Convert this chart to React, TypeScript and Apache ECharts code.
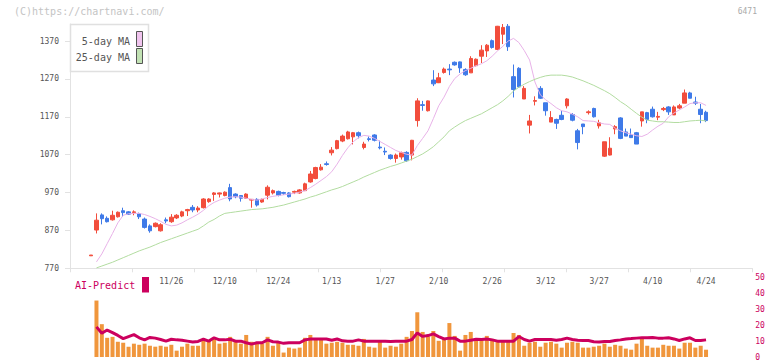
import React, { useEffect, useRef } from "react";
import * as echarts from "echarts";

// ---- data ----
const dateLabels = ["11/26", "12/10", "12/24", "1/13", "1/27", "2/10", "2/26", "3/12", "3/27", "4/10", "4/24"];
const labelIndex = [15, 25, 35, 45, 55, 65, 75, 85, 95, 105, 115];
const priceTicks = [770, 870, 970, 1070, 1170, 1270, 1370];
const volumeTicks = [0, 10, 20, 30, 40, 50];

const opens = [
  803, 871, 911, 902, 898, 906, 922, 919, 917, 914,
  900, 882, 880, 869, 898, 893, 903, 908, 922, 931,
  924, 930, 946, 965, 966, 962, 983, 966, 962, 955,
  950, 952, 945, 963, 969, 973, 970, 969, 971, 969,
  975, 998, 1007, 1030, 1046, 1075, 1086, 1106, 1112, 1117,
  1128, 1089, 1112, 1122, 1090, 1079, 1069, 1060, 1064, 1076,
  1069, 1160, 1202, 1186, 1267, 1260, 1287, 1296, 1314, 1315,
  1295, 1286, 1305, 1330, 1344, 1371, 1348, 1388, 1409, 1276,
  1298, 1217, 1148, 1211, 1245, 1207, 1156, 1163, 1174, 1199,
  1176, 1133, 1151, 1181, 1192, 1146, 1066, 1069, 1138, 1167,
  1130, 1122, 1128, 1159, 1181, 1190, 1169, 1189, 1196, 1175,
  1193, 1206, 1233, 1209, 1190, 1182,
];
const closes = [
  805, 897, 901, 893, 910, 918, 917, 913, 919, 906,
  878, 869, 889, 885, 895, 905, 910, 919, 925, 924,
  929, 953, 953, 969, 969, 971, 953, 959, 955, 966,
  952, 937, 952, 984, 975, 963, 968, 959, 973, 977,
  993, 1019, 1036, 1037, 1044, 1082, 1107, 1119, 1130, 1128,
  1120, 1098, 1110, 1108, 1088, 1077, 1060, 1069, 1075, 1054,
  1108, 1212, 1200, 1212, 1257, 1273, 1296, 1294, 1307, 1299,
  1281, 1324, 1322, 1346, 1359, 1353, 1409, 1406, 1355, 1242,
  1249, 1245, 1159, 1213, 1219, 1186, 1168, 1153, 1163, 1217,
  1161, 1102, 1144, 1183, 1170, 1154, 1104, 1087, 1144, 1113,
  1119, 1115, 1098, 1183, 1163, 1170, 1171, 1192, 1183, 1196,
  1199, 1233, 1219, 1206, 1176, 1160,
];
const lows = [
  803, 862, 886, 891, 896, 904, 906, 911, 910, 900,
  875, 864, 878, 867, 889, 890, 900, 905, 908, 918,
  918, 928, 943, 948, 957, 960, 947, 955, 946, 953,
  930, 933, 943, 952, 965, 960, 964, 957, 966, 967,
  974, 996, 1005, 1028, 1041, 1068, 1084, 1103, 1110, 1097,
  1113, 1084, 1105, 1105, 1084, 1069, 1057, 1049, 1057, 1051,
  1055, 1144, 1186, 1184, 1251, 1259, 1284, 1280, 1305, 1286,
  1278, 1286, 1303, 1312, 1328, 1350, 1346, 1362, 1344, 1221,
  1246, 1217, 1126, 1200, 1217, 1173, 1156, 1138, 1161, 1192,
  1158, 1084, 1124, 1176, 1168, 1139, 1064, 1068, 1124, 1111,
  1119, 1115, 1098, 1144, 1153, 1168, 1161, 1185, 1175, 1175,
  1190, 1206, 1219, 1201, 1153, 1156,
];
const highs = [
  805, 915, 915, 907, 922, 920, 930, 921, 923, 917,
  904, 886, 891, 889, 904, 913, 913, 922, 927, 937,
  934, 955, 955, 971, 970, 973, 993, 968, 963, 968,
  953, 955, 954, 989, 978, 975, 972, 971, 975, 979,
  996, 1027, 1038, 1045, 1052, 1090, 1109, 1123, 1133, 1130,
  1131, 1104, 1118, 1124, 1107, 1089, 1071, 1073, 1078, 1079,
  1109, 1219, 1212, 1213, 1293, 1286, 1300, 1309, 1316, 1316,
  1298, 1330, 1324, 1359, 1362, 1374, 1410, 1415, 1415, 1308,
  1301, 1251, 1175, 1224, 1251, 1207, 1185, 1165, 1186, 1219,
  1180, 1138, 1151, 1187, 1194, 1162, 1104, 1116, 1148, 1169,
  1139, 1139, 1130, 1183, 1183, 1197, 1183, 1196, 1198, 1200,
  1204, 1242, 1236, 1223, 1204, 1186,
];
const ma5 = [
  null, 787, 808, 835, 862, 890, 910, 914, 915, 915,
  912, 907, 901, 894, 886, 882, 884, 890, 898, 905,
  913, 923, 935, 944, 950, 955, 958, 959, 958, 955,
  952, 950, 953, 957, 960, 962, 964, 966, 968, 971,
  975, 983, 992, 1002, 1012, 1025, 1045, 1068, 1088, 1104,
  1115, 1121, 1119, 1113, 1105, 1097, 1089, 1081, 1076, 1071,
  1069, 1094, 1113, 1133, 1165, 1199, 1222, 1250, 1271, 1283,
  1292, 1298, 1305, 1310, 1318, 1330, 1344, 1356, 1370, 1377,
  1366, 1345, 1320, 1262, 1228, 1215, 1205, 1194, 1186, 1183,
  1177, 1170, 1160, 1159, 1158, 1154, 1151, 1150, 1140, 1133,
  1128, 1124, 1120, 1118, 1124, 1135, 1145, 1153, 1170, 1180,
  1188, 1196, 1205, 1207, 1207, 1200,
];
const ma25 = [
  null, 771, 776, 781, 786, 792, 798, 804, 810, 816,
  821, 826, 832, 838, 843, 848, 853, 858, 863, 868,
  873, 882, 892, 899, 908, 915, 917, 919, 921, 923,
  925, 926, 927, 929, 931, 934, 937, 941, 945, 949,
  953, 958, 962, 967, 972, 977, 981, 986, 992, 998,
  1004, 1011, 1017, 1023, 1029, 1034, 1039, 1043, 1048, 1053,
  1058, 1065, 1072, 1081, 1091, 1104, 1117, 1133, 1143, 1152,
  1160, 1166, 1172, 1178, 1186, 1194, 1202, 1212, 1224, 1238,
  1248, 1256, 1263, 1269, 1274, 1278, 1280, 1280, 1280, 1278,
  1275, 1270, 1265, 1259, 1253, 1246, 1239, 1231, 1221, 1210,
  1201, 1190, 1179, 1169, 1161, 1159, 1157, 1157, 1156, 1155,
  1155, 1157, 1159, 1160, 1161, 1159,
];
const volume = [
  null, 35.6, 20.7, 12.1, 12.7, 9.6, 9.0, 6.5, 8.4, 7.7,
  8.4, 7.1, 6.5, 7.1, 6.5, 7.7, 4.0, 6.5, 8.4, 7.1,
  7.1, 11.4, 10.2, 11.4, 8.4, 9.0, 12.7, 10.2, 8.4, 13.9,
  9.6, 9.0, 8.4, 12.7, 7.1, 9.0, 2.8, 5.9, 5.3, 5.9,
  12.1, 13.9, 11.4, 11.4, 8.4, 9.0, 9.6, 9.0, 7.7, 7.7,
  7.1, 11.4, 6.5, 5.9, 9.6, 5.9, 7.1, 6.5, 8.4, 12.7,
  16.4, 28.2, 15.8, 12.9, 16.4, 10.2, 11.4, 21.4, 13.3, 4.0,
  13.9, 15.8, 11.4, 10.8, 13.3, 11.4, 10.2, 9.6, 10.2, 15.2,
  13.9, 7.1, 9.0, 9.6, 6.5, 9.0, 9.6, 8.4, 5.9, 9.0,
  9.6, 9.0, 5.9, 5.9, 6.5, 7.1, 8.4, 6.5, 7.7, 7.1,
  5.3, 4.6, 8.4, 11.4, 7.1, 5.9, 5.9, 7.7, 7.1, 7.1,
  5.3, 9.0, 9.0, 5.9, 7.1, 4.6,
];
const aiPredict = [
  null, 19.0, 15.0, 17.0, 15.4, 13.6, 11.6, 12.9, 14.1, 12.1,
  10.8, 12.3, 11.9, 11.0, 10.0, 11.2, 10.8, 10.6, 10.0, 9.4,
  9.8, 11.2, 10.0, 12.1, 10.8, 10.8, 11.2, 10.0, 10.0, 9.0,
  8.1, 9.0, 9.0, 10.8, 9.6, 9.4, 8.6, 9.0, 9.0, 9.0,
  10.8, 11.4, 11.4, 11.4, 11.4, 10.6, 11.4, 10.2, 10.0, 10.0,
  10.8, 10.0, 10.0, 10.0, 10.0, 10.0, 9.8, 10.0, 10.0, 10.0,
  11.0, 15.2, 13.0, 13.5, 14.6, 12.9, 11.4, 11.9, 11.9, 10.0,
  10.0, 10.6, 11.2, 11.0, 11.4, 10.8, 10.0, 10.0, 10.0, 10.0,
  12.9, 11.0, 10.0, 11.0, 11.0, 11.0, 11.0, 10.6, 11.0, 11.9,
  11.0, 10.6, 10.4, 10.4, 9.6, 9.4, 9.8, 9.8, 10.4, 10.8,
  11.4, 11.6, 11.9, 12.1, 12.1, 12.3, 11.9, 11.9, 12.1, 11.4,
  10.4, 11.4, 12.1, 10.4, 10.4, 10.8,
];

const FONT = "'DejaVu Sans Mono', 'Liberation Mono', monospace";
const RED = "#f24d3c";
const BLUE = "#3f7ae8";
const CRIMSON = "#cc005e";
const ORANGE = "#f0963c";
const AXIS = "#e2e2e2";

const pairs = (arr: (number | null)[]) =>
  arr.map((v, i) => (v == null ? null : [i, v])).filter((p) => p !== null);

export default function App() {
  const ref = useRef<HTMLDivElement>(null);

  useEffect(() => {
    if (!ref.current) return;
    const chart = echarts.init(ref.current, undefined, { renderer: "svg" });

    const xMin = -3.95;
    const xMax = 123.65;
    const xTicks = Array.from({ length: 12 }, (_, k) => xMin + (k * (xMax - xMin)) / 11);
    const candles = opens.map((o, i) => [i, o, closes[i], lows[i], highs[i]]);

    const option: any = {
      animation: false,
      backgroundColor: "#ffffff",
      grid: [
        { left: 70, right: 19.7, top: 24, bottom: 92.7 },
        { left: 70, right: 19.7, top: 277.7, bottom: 3 },
      ],
      xAxis: [
        {
          type: "value",
          gridIndex: 0,
          min: xMin,
          max: xMax,
          axisLine: { show: true, onZero: false, lineStyle: { color: AXIS, width: 1 } },
          axisTick: { show: true, customValues: xTicks, length: 4, lineStyle: { color: AXIS } },
          axisLabel: {
            show: true,
            customValues: labelIndex,
            formatter: (v: number) => {
              const k = labelIndex.indexOf(Math.round(v));
              return k >= 0 ? dateLabels[k] : "";
            },
            color: "#555",
            fontSize: 8,
            fontFamily: FONT,
            margin: 9,
          },
          splitLine: { show: false },
        },
        {
          type: "value",
          gridIndex: 1,
          min: xMin,
          max: xMax,
          show: false,
        },
      ],
      yAxis: [
        {
          type: "value",
          gridIndex: 0,
          min: 770,
          max: 1415,
          axisLine: { show: true, onZero: false, lineStyle: { color: AXIS, width: 1 } },
          axisTick: { show: true, customValues: priceTicks, length: 5, lineStyle: { color: AXIS } },
          axisLabel: {
            show: true,
            customValues: priceTicks,
            formatter: (v: number) => String(Math.round(v)),
            color: "#555",
            fontSize: 8,
            fontFamily: FONT,
            margin: 11,
          },
          splitLine: { show: false },
        },
        {
          type: "value",
          gridIndex: 1,
          position: "right",
          min: 0,
          max: 50,
          axisLine: { show: false, onZero: false },
          axisTick: { show: false },
          axisLabel: {
            show: true,
            customValues: volumeTicks,
            formatter: (v: number) => String(Math.round(v)),
            color: CRIMSON,
            fontSize: 8,
            fontFamily: FONT,
            margin: 3,
          },
          splitLine: { show: false },
        },
      ],
      series: [
        {
          type: "candlestick",
          xAxisIndex: 0,
          yAxisIndex: 0,
          data: candles,
          encode: { x: 0, y: [1, 2, 3, 4] },
          barWidth: 4,
          itemStyle: {
            color: RED,
            color0: BLUE,
            borderColor: RED,
            borderColor0: BLUE,
            borderWidth: 1,
          },
        },
        {
          type: "line",
          xAxisIndex: 0,
          yAxisIndex: 0,
          data: pairs(ma5),
          showSymbol: false,
          symbol: "none",
          lineStyle: { color: "#e8b2e8", width: 1 },
        },
        {
          type: "line",
          xAxisIndex: 0,
          yAxisIndex: 0,
          data: pairs(ma25),
          showSymbol: false,
          symbol: "none",
          lineStyle: { color: "#b2dca0", width: 1 },
        },
        {
          type: "bar",
          xAxisIndex: 1,
          yAxisIndex: 1,
          data: pairs(volume),
          barWidth: 4,
          itemStyle: { color: ORANGE },
        },
        {
          type: "line",
          xAxisIndex: 1,
          yAxisIndex: 1,
          data: pairs(aiPredict),
          showSymbol: false,
          symbol: "none",
          lineStyle: { color: CRIMSON, width: 3 },
        },
      ],
      graphic: [
        {
          type: "text",
          left: 14,
          top: 6,
          style: { text: "(C)https://chartnavi.com/", fill: "#c4c4c4", font: `10px ${FONT}` },
        },
        {
          type: "text",
          right: 15,
          top: 7,
          style: { text: "6471", fill: "#aaaaaa", font: `8px ${FONT}` },
        },
        {
          type: "rect",
          shape: { x: 70.5, y: 24.5, width: 78, height: 47 },
          style: { fill: "#ffffff", stroke: "#e0e0e0", lineWidth: 1.5 },
          z: 100,
        },
        {
          type: "text",
          x: 130,
          y: 41.5,
          style: { text: "5-day MA", fill: "#555", font: `10px ${FONT}`, textAlign: "right", textVerticalAlign: "middle" },
          z: 101,
        },
        {
          type: "text",
          x: 130,
          y: 57.5,
          style: { text: "25-day MA", fill: "#555", font: `10px ${FONT}`, textAlign: "right", textVerticalAlign: "middle" },
          z: 101,
        },
        {
          type: "rect",
          shape: { x: 136.5, y: 31.5, width: 6, height: 15 },
          style: { fill: "#f0c4ee", stroke: "#555", lineWidth: 1 },
          z: 101,
        },
        {
          type: "rect",
          shape: { x: 136.5, y: 48.5, width: 6, height: 15 },
          style: { fill: "#c2e2b4", stroke: "#555", lineWidth: 1 },
          z: 101,
        },
        {
          type: "text",
          x: 75,
          y: 285,
          style: { text: "AI-Predict", fill: CRIMSON, font: `10px ${FONT}`, textVerticalAlign: "middle" },
        },
        {
          type: "rect",
          shape: { x: 142, y: 277, width: 7, height: 15.5 },
          style: { fill: CRIMSON },
        },
      ],
    };

    chart.setOption(option);
    return () => chart.dispose();
  }, []);

  return (
    <div
      ref={ref}
      style={{ position: "fixed", left: 0, top: 0, width: 772, height: 361, background: "#fff" }}
    />
  );
}
